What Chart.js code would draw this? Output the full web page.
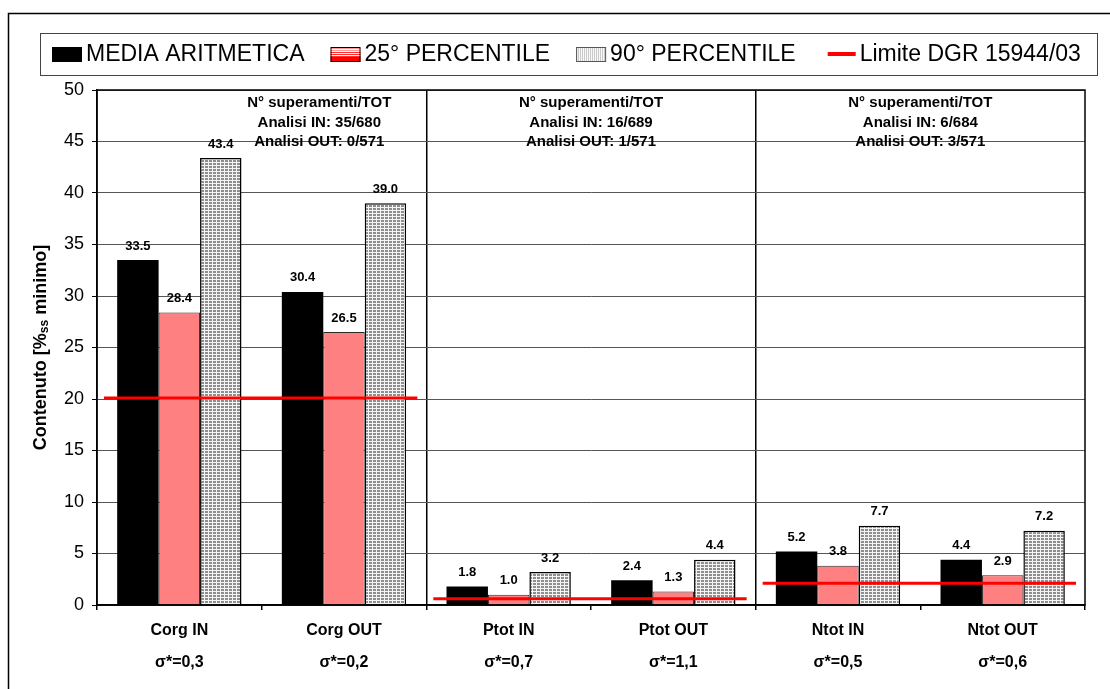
<!DOCTYPE html>
<html>
<head>
<meta charset="utf-8">
<script src="https://cdn.jsdelivr.net/npm/chart.js@4.4.0/dist/chart.umd.min.js"></script>
<style>
  html, body { margin: 0; padding: 0; background: #fff; }
</style>
</head>
<body>
<canvas id="chart" width="1110" height="689"></canvas>
<script>
const FONT = '"Liberation Sans", Arial, sans-serif';

// values per category
const categories = ['Corg IN', 'Corg OUT', 'Ptot IN', 'Ptot OUT', 'Ntot IN', 'Ntot OUT'];
const sigmaLabels = ['σ*=0,3', 'σ*=0,2', 'σ*=0,7', 'σ*=1,1', 'σ*=0,5', 'σ*=0,6'];
const mediaAritmetica = [33.5, 30.4, 1.8, 2.4, 5.2, 4.4];
const percentile25 = [28.4, 26.5, 1.0, 1.3, 3.8, 2.9];
const percentile90 = [43.4, 39.0, 3.2, 4.4, 7.7, 7.2];
const limiteDGR = [20.1, 20.1, 0.6, 0.6, 2.1, 2.1];
const superamenti = [
    ['N° superamenti/TOT', 'Analisi IN: 35/680', 'Analisi OUT: 0/571'],
    ['N° superamenti/TOT', 'Analisi IN: 16/689', 'Analisi OUT: 1/571'],
    ['N° superamenti/TOT', 'Analisi IN: 6/684', 'Analisi OUT: 3/571'],
];

const ctx = document.getElementById('chart').getContext('2d');

// fine grey grid fill used by the 90th percentile bars
function gridPattern() {
    const c = document.createElement('canvas');
    c.width = 4; c.height = 3;
    const g = c.getContext('2d');
    g.fillStyle = '#f4f4f4';
    g.fillRect(0, 0, 4, 3);
    g.fillStyle = '#8e8e8e';
    g.fillRect(1, 1, 3, 2);
    return ctx.createPattern(c, 'repeat');
}

function drawSwatch(g, idx, x, y) {
    if (idx === 0) {
        g.fillStyle = '#000';
        g.fillRect(x, y, 30, 15);
    } else if (idx === 1) {
        // white-to-red striped box
        for (let r = 0; r < 15; r++) {
            if (r >= 10) g.fillStyle = '#ff0000';
            else if (r % 2 === 0) g.fillStyle = '#ffffff';
            else g.fillStyle = r < 5 ? '#ff9a9a' : '#ff3030';
            g.fillRect(x, y + r, 30, 1);
        }
        g.strokeStyle = '#000';
        g.lineWidth = 1;
        g.strokeRect(x + 0.5, y + 0.5, 29, 14);
    } else if (idx === 2) {
        g.fillStyle = '#c4c4c4';
        g.fillRect(x, y, 30, 15);
        g.fillStyle = '#ffffff';
        for (let c = 1; c < 30; c += 2) g.fillRect(x + c, y, 1, 15);
        g.strokeStyle = '#555';
        g.lineWidth = 1;
        g.strokeRect(x + 0.5, y + 0.5, 29, 14);
    } else {
        g.fillStyle = '#ff0000';
        g.fillRect(x, y + 5, 28, 4);
    }
}

const framePlugin = {
    id: 'frame',
    beforeDraw(chart) {
        const g = chart.ctx;
        g.save();
        g.fillStyle = '#fff';
        g.fillRect(0, 0, chart.width, chart.height);
        g.strokeStyle = '#000';
        g.lineWidth = 1.5;
        g.strokeRect(8.5, 13.5, chart.width + 20, chart.height + 20);
        g.restore();
    },
    afterDraw(chart) {
        const g = chart.ctx;
        const area = chart.chartArea;
        g.save();
        // plot border
        g.strokeStyle = '#000';
        g.lineWidth = 1.5;
        g.strokeRect(area.left, area.top, area.right - area.left, area.bottom - area.top);

        // legend
        g.strokeStyle = '#444';
        g.lineWidth = 1;
        g.strokeRect(40.5, 33.5, 1057, 42);
        g.font = '23px ' + FONT;
        g.textBaseline = 'middle';
        g.textAlign = 'left';
        let x = 52;
        chart.data.datasets.forEach((ds, i) => {
            drawSwatch(g, i, x, 47);
            x += (i === 3 ? 28 : 30) + 4;
            g.fillStyle = '#000';
            g.fillText(ds.label, x, 55);
            x += g.measureText(ds.label).width + (i === 2 ? 32 : 26);
        });

        // y axis title with subscript
        const parts = [
            { t: 'Contenuto [%', size: 18, dy: 0 },
            { t: 'ss', size: 12, dy: 4 },
            { t: ' minimo]', size: 18, dy: 0 },
        ];
        let total = 0;
        parts.forEach(p => {
            g.font = 'bold ' + p.size + 'px ' + FONT;
            p.w = g.measureText(p.t).width;
            total += p.w;
        });
        g.fillStyle = '#000';
        g.translate(41, (area.top + area.bottom) / 2);
        g.rotate(-Math.PI / 2);
        let tx = -total / 2;
        parts.forEach(p => {
            g.font = 'bold ' + p.size + 'px ' + FONT;
            g.fillText(p.t, tx, p.dy);
            tx += p.w;
        });
        g.restore();
    }
};

const labelsPlugin = {
    id: 'barLabels',
    afterDatasetsDraw(chart) {
        const g = chart.ctx;
        const xs = chart.scales.x;
        const ys = chart.scales.y;
        const area = chart.chartArea;
        const catW = (xs.right - xs.left) / categories.length;
        g.save();

        // limit lines, one per pair of categories
        const limitMeta = chart.getDatasetMeta(3);
        if (!limitMeta.hidden) {
            g.strokeStyle = '#ff0000';
            g.lineWidth = 3;
            for (let i = 0; i < limiteDGR.length; i += 2) {
                const y = ys.getPixelForValue(limiteDGR[i]);
                const x0 = xs.getPixelForValue(i) - catW / 2 + 7;
                const x1 = xs.getPixelForValue(i + 1) + catW / 2 - 9;
                g.beginPath();
                g.moveTo(x0, y);
                g.lineTo(x1, y);
                g.stroke();
            }
        }

        // value labels above bars
        g.font = 'bold 13px ' + FONT;
        g.fillStyle = '#000';
        g.textAlign = 'center';
        g.textBaseline = 'middle';
        [0, 1, 2].forEach(di => {
            const meta = chart.getDatasetMeta(di);
            meta.data.forEach((bar, j) => {
                const v = chart.data.datasets[di].data[j];
                g.fillText(v.toFixed(1), bar.x, bar.y - 14);
            });
        });

        // exceedance counts
        const at = [0.85, 2.5, 4.5];
        g.font = 'bold 15px ' + FONT;
        superamenti.forEach((lines, k) => {
            const cx = xs.getPixelForValue(at[k]);
            lines.forEach((s, l) => {
                g.fillText(s, cx, area.top + 13 + l * 19.5);
            });
        });
        g.restore();
    }
};

new Chart(ctx, {
    type: 'bar',
    data: {
        labels: categories.map((c, i) => [c, sigmaLabels[i]]),
        datasets: [
            {
                label: 'MEDIA ARITMETICA',
                data: mediaAritmetica,
                backgroundColor: '#000000',
                borderWidth: 0
            },
            {
                label: '25° PERCENTILE',
                data: percentile25,
                backgroundColor: '#ff8080',
                borderColor: '#2a2a2a',
                borderWidth: 1
            },
            {
                label: '90° PERCENTILE',
                data: percentile90,
                backgroundColor: gridPattern(),
                borderColor: '#000000',
                borderWidth: 1.5
            },
            {
                type: 'line',
                label: 'Limite DGR 15944/03',
                data: limiteDGR,
                showLine: false,
                pointRadius: 0,
                borderColor: '#ff0000'
            }
        ]
    },
    options: {
        responsive: false,
        animation: false,
        devicePixelRatio: 1,
        categoryPercentage: 0.755,
        barPercentage: 1.0,
        layout: { padding: { top: 90, right: 25, left: 0, bottom: 0 } },
        plugins: {
            legend: { display: false },
            tooltip: { enabled: false }
        },
        scales: {
            x: {
                afterFit(scale) { scale.height = 84; },
                grid: {
                    color: c => (c.index === 2 || c.index === 4) ? '#000' : 'rgba(0,0,0,0)',
                    tickColor: '#000',
                    tickLength: 5,
                    lineWidth: 1.5
                },
                border: { color: '#000', width: 1.5 },
                ticks: {
                    color: '#000',
                    font: { family: FONT, size: 16, weight: 'bold', lineHeight: 2 },
                    padding: 5,
                    autoSkip: false,
                    maxRotation: 0
                }
            },
            y: {
                min: 0,
                max: 50,
                afterFit(scale) { scale.width = 97; },
                grid: {
                    color: '#555',
                    tickColor: '#000',
                    tickLength: 5,
                    lineWidth: 1
                },
                border: { color: '#000', width: 1.5 },
                ticks: {
                    stepSize: 5,
                    color: '#000',
                    padding: 8,
                    font: { family: FONT, size: 18 }
                }
            }
        }
    },
    plugins: [framePlugin, labelsPlugin]
});
</script>
</body>
</html>
